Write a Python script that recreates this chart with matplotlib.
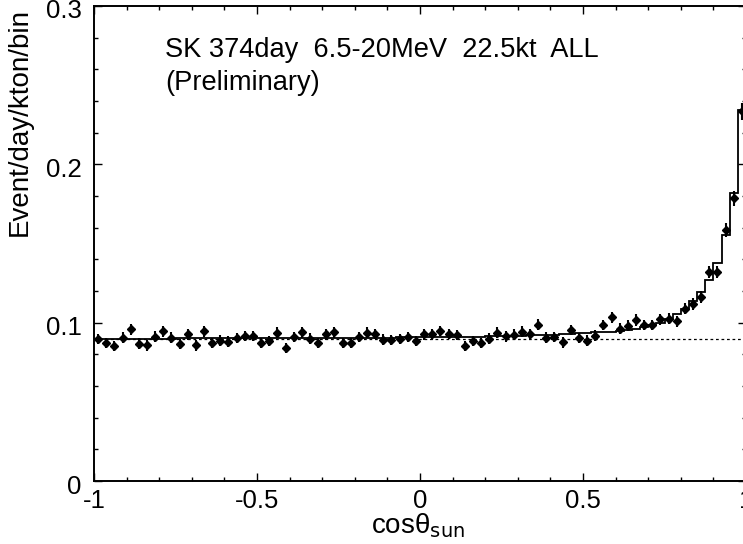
import numpy as np
import matplotlib
matplotlib.use("Agg")
import matplotlib.pyplot as plt
from matplotlib.ticker import FixedLocator, MultipleLocator
from matplotlib.transforms import ScaledTranslation

plt.rcParams['font.family'] = ['Liberation Sans', 'DejaVu Sans']

# 80 bins in cos(theta_sun) from -1 to 1
bin_edges = np.linspace(-1.0, 1.0, 81)

# observed rate per bin (event/day/kton/bin)
rate = [
    0.0898, 0.0871, 0.0851, 0.0905, 0.0959, 0.0868, 0.0856, 0.0912, 0.0945, 0.0905,
    0.0866, 0.0926, 0.0856, 0.0945, 0.0870, 0.0887, 0.0880, 0.0902, 0.0915, 0.0915,
    0.0870, 0.0884, 0.0937, 0.0842, 0.0908, 0.0940, 0.0900, 0.0873, 0.0926, 0.0940,
    0.0872, 0.0872, 0.0910, 0.0937, 0.0930, 0.0893, 0.0891, 0.0898, 0.0910, 0.0885,
    0.0926, 0.0926, 0.0947, 0.0929, 0.0922, 0.0855, 0.0884, 0.0873, 0.0900, 0.0937,
    0.0913, 0.0924, 0.0944, 0.0928, 0.0987, 0.0905, 0.0911, 0.0875, 0.0953, 0.0903,
    0.0887, 0.0918, 0.0985, 0.1035, 0.0963, 0.0982, 0.1017, 0.0985, 0.0985, 0.1021,
    0.1025, 0.1010, 0.1088, 0.1116, 0.1165, 0.1320, 0.1320, 0.1586, 0.1785, 0.2336,
]

# statistical errors
rate_err = [
    0.0033, 0.0033, 0.0032, 0.0033, 0.0034, 0.0033, 0.0032, 0.0033, 0.0034, 0.0033,
    0.0033, 0.0033, 0.0032, 0.0034, 0.0033, 0.0033, 0.0033, 0.0033, 0.0033, 0.0033,
    0.0033, 0.0033, 0.0034, 0.0032, 0.0033, 0.0034, 0.0033, 0.0033, 0.0033, 0.0034,
    0.0033, 0.0033, 0.0033, 0.0034, 0.0033, 0.0033, 0.0033, 0.0033, 0.0033, 0.0033,
    0.0033, 0.0033, 0.0034, 0.0033, 0.0033, 0.0032, 0.0033, 0.0033, 0.0033, 0.0034,
    0.0033, 0.0033, 0.0034, 0.0033, 0.0034, 0.0033, 0.0033, 0.0033, 0.0034, 0.0033,
    0.0033, 0.0033, 0.0034, 0.0035, 0.0034, 0.0034, 0.0035, 0.0034, 0.0034, 0.0035,
    0.0035, 0.0035, 0.0036, 0.0037, 0.0038, 0.0040, 0.0040, 0.0044, 0.0047, 0.0053,
]

# best-fit expectation: background + solar neutrino signal
expected = [
    0.0900, 0.0900, 0.0900, 0.0900, 0.0900, 0.0900, 0.0900, 0.0900, 0.0900, 0.0900,
    0.0901, 0.0901, 0.0901, 0.0901, 0.0901, 0.0901, 0.0901, 0.0901, 0.0901, 0.0901,
    0.0902, 0.0902, 0.0902, 0.0902, 0.0903, 0.0903, 0.0903, 0.0903, 0.0904, 0.0904,
    0.0904, 0.0905, 0.0905, 0.0905, 0.0906, 0.0906, 0.0906, 0.0907, 0.0907, 0.0907,
    0.0908, 0.0908, 0.0909, 0.0909, 0.0910, 0.0910, 0.0911, 0.0912, 0.0913, 0.0913,
    0.0914, 0.0915, 0.0917, 0.0919, 0.0921, 0.0923, 0.0925, 0.0927, 0.0930, 0.0932,
    0.0935, 0.0938, 0.0941, 0.0944, 0.0949, 0.0955, 0.0962, 0.0972, 0.0985, 0.1000,
    0.1025, 0.1055, 0.1085, 0.1140, 0.1195, 0.1272, 0.1378, 0.1552, 0.1820, 0.2342,
]

background = 0.0899

x_ticks = [-1.0, -0.5, 0.0, 0.5, 1.0]
x_tick_labels = ['-1', '-0.5', '0', '0.5', '1']
y_ticks = [0.0, 0.1, 0.2, 0.3]
y_tick_labels = ['0', '0.1', '0.2', '0.3']

W, H = 743, 544
fig = plt.figure(figsize=(W / 100, H / 100), dpi=100)
ax = fig.add_axes([94 / W, 1 - 481 / H, (746 - 94) / W, (481 - 6) / H])

centers = 0.5 * (bin_edges[:-1] + bin_edges[1:])

ax.stairs(expected, bin_edges, baseline=None, color='black', lw=1.3)
ax.hlines(background, -1, 1, colors='black', linestyles=(0, (2.2, 2.2)), lw=0.9)
ax.errorbar(centers, rate, yerr=rate_err, fmt='D', ms=4.5, color='black',
            mec='black', elinewidth=1.5, capsize=0)

ax.set_xlim(-1, 1)
ax.set_ylim(0, 0.3)

ax.xaxis.set_major_locator(FixedLocator(x_ticks))
ax.set_xticklabels(x_tick_labels)
ax.xaxis.set_minor_locator(MultipleLocator(0.1))
ax.yaxis.set_major_locator(FixedLocator(y_ticks))
ax.set_yticklabels(y_tick_labels)
ax.yaxis.set_minor_locator(MultipleLocator(0.02))

ax.tick_params(which='both', direction='in', top=True, right=True,
               labelsize=18.5, width=1.0, color='black')
ax.tick_params(which='major', length=6)
ax.tick_params(which='minor', length=3)
ax.tick_params(axis='x', which='major', pad=6)
ax.tick_params(axis='y', which='major', pad=9)
for s in ax.spines.values():
    s.set_linewidth(1.4)

# y tick labels sit a little below their ticks
shift_down = ScaledTranslation(0, -3 / 100, fig.dpi_scale_trans)
for lbl in ax.get_yticklabels():
    lbl.set_transform(lbl.get_transform() + shift_down)

ax.text(-0.782, 0.268, 'SK 374day  6.5-20MeV  22.5kt  ALL', fontsize=19.6)
ax.text(-0.782, 0.247, '(Preliminary)', fontsize=19.6)

fig.text(20 / W, 1 - 122 / H, 'Event/day/kton/bin', rotation=90,
         ha='center', va='center', fontsize=20)
fig.text(418 / W, 1 - 526 / H, 'cosθ$_{\\mathrm{sun}}$', ha='center', va='center',
         fontsize=20)

fig.savefig('out.png', dpi=100)
